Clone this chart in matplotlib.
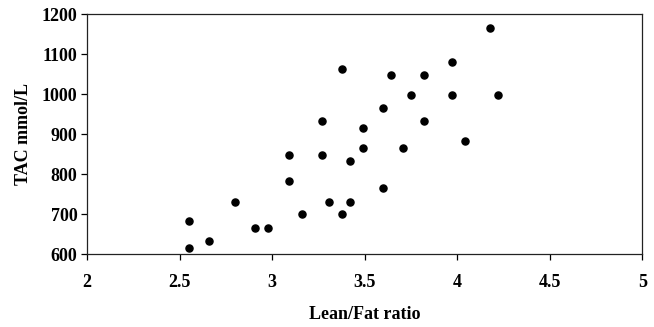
import matplotlib.pyplot as plt

# Lean/Fat ratio vs TAC (mmol/L)
lean_fat = [2.55, 2.55, 2.66, 2.80, 2.91, 2.98, 3.09, 3.09, 3.16, 3.27,
            3.27, 3.31, 3.38, 3.38, 3.42, 3.42, 3.49, 3.49, 3.60, 3.60,
            3.64, 3.71, 3.75, 3.82, 3.82, 3.97, 3.97, 4.04, 4.18, 4.22]
tac = [683, 617, 633, 732, 667, 667, 849, 783, 700, 932,
       849, 732, 1064, 700, 732, 832, 865, 915, 965, 766,
       1049, 865, 999, 1049, 932, 1081, 999, 882, 1164, 999]

x_ticks = [2, 2.5, 3, 3.5, 4, 4.5, 5]
y_ticks = [600, 700, 800, 900, 1000, 1100, 1200]

plt.rcParams['font.family'] = ['Liberation Serif', 'DejaVu Serif']
plt.rcParams['font.weight'] = 'bold'

fig = plt.figure(figsize=(6.54, 3.27), dpi=100)
ax = fig.add_axes([0.133, 0.222, 0.849, 0.735])

ax.scatter(lean_fat, tac, s=26, color='black', zorder=3)

ax.set_xlim(2, 5)
ax.set_ylim(600, 1200)
ax.set_xticks(x_ticks)
ax.set_xticklabels([f"{t:g}" for t in x_ticks])
ax.set_yticks(y_ticks)

for s in ax.spines.values():
    s.set_linewidth(0.9)
    s.set_color('#222222')
ax.tick_params(direction='out', length=4, width=0.9, labelsize=13, pad=10)
ax.tick_params(axis='y', pad=3)
for lab in ax.get_xticklabels() + ax.get_yticklabels():
    lab.set_fontweight('bold')

ax.set_xlabel("Lean/Fat ratio", fontsize=13, fontweight='bold', labelpad=11)
ax.set_ylabel("TAC mmol/L", fontsize=13, fontweight='bold', labelpad=7)

fig.savefig("out.png", dpi=100)
